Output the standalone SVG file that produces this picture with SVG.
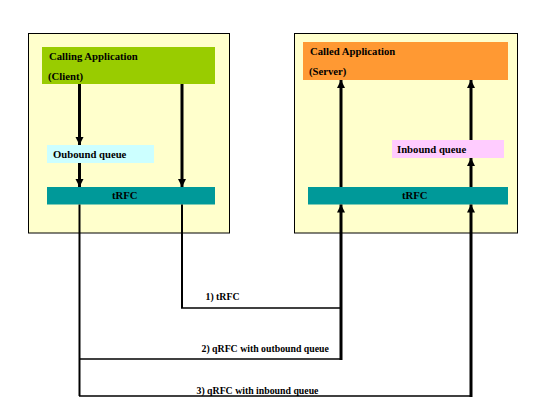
<svg xmlns="http://www.w3.org/2000/svg" width="560" height="420" viewBox="0 0 560 420">
<style>
.box{stroke:none}
.cont{fill:#FFFFCC;stroke:#000;stroke-width:1}
.t{font-family:"Liberation Serif","Times New Roman",serif;font-weight:bold;font-size:10.7px;fill:#000}
.lb{font-family:"Liberation Serif","Times New Roman",serif;font-weight:bold;font-size:9.8px;fill:#000}
.a{fill:none;stroke:#000;stroke-width:3}
.thin{fill:none;stroke:#000;stroke-width:2}
.h{fill:none;stroke:#000;stroke-width:1.6}
</style>
<defs>
<marker id="ah" markerUnits="userSpaceOnUse" markerWidth="10" markerHeight="10" viewBox="0 0 10 10" refX="8" refY="5" orient="auto">
<path d="M0,1 L8,5 L0,9 Z" fill="#000"/>
</marker>
</defs>
<rect width="560" height="420" fill="#fff"/>
<g id="client">
<rect class="cont" x="28.5" y="33.5" width="201" height="199.5"/>
</g>
<g id="server">
<rect class="cont" x="294.5" y="33.5" width="223" height="199.5"/>
</g>
<g id="calling-app">
<rect class="box" x="42" y="47" width="173" height="37" fill="#99CC00"/>
<text class="t" x="49" y="60">Calling Application</text>
<text class="t" x="48" y="80">(Client)</text>
</g>
<g id="outbound-queue">
<rect class="box" x="47" y="145" width="107" height="18" fill="#CCFFFF"/>
<text class="t" x="53" y="158">Oubound queue</text>
</g>
<g id="trfc-left">
<rect class="box" x="47" y="187" width="168" height="17.5" fill="#009999"/>
<text class="t" x="112" y="199">tRFC</text>
</g>
<g id="called-app">
<rect class="box" x="303" y="42" width="205" height="38" fill="#FF9933"/>
<text class="t" x="310" y="55">Called Application</text>
<text class="t" x="309" y="75">(Server)</text>
</g>
<g id="inbound-queue">
<rect class="box" x="392" y="140" width="112" height="18" fill="#FFCCFF"/>
<text class="t" x="397" y="153">Inbound queue</text>
</g>
<g id="trfc-right">
<rect class="box" x="308" y="187" width="200" height="17.5" fill="#009999"/>
<text class="t" x="402" y="199">tRFC</text>
</g>
<g id="connectors">
<line class="a" x1="79.5" y1="84" x2="79.5" y2="145" marker-end="url(#ah)"/>
<line class="a" x1="79.5" y1="163" x2="79.5" y2="187" marker-end="url(#ah)"/>
<line class="a" x1="182" y1="84" x2="182" y2="187" marker-end="url(#ah)"/>
<line class="a" x1="341" y1="187" x2="341" y2="80" marker-end="url(#ah)"/>
<line class="a" x1="471" y1="140" x2="471" y2="80" marker-end="url(#ah)"/>
<line class="a" x1="471" y1="187" x2="471" y2="158" marker-end="url(#ah)"/>
<polyline class="thin" points="182,204.5 182,308"/>
<polyline class="h" points="181,308 341,308"/>
<polyline class="thin" points="79.5,204.5 79.5,396"/>
<polyline class="h" points="79,359 341,359"/>
<polyline class="h" points="79,396 471,396"/>
<line class="a" x1="341" y1="360" x2="341" y2="204.5" marker-end="url(#ah)"/>
<line class="a" x1="471" y1="397" x2="471" y2="204.5" marker-end="url(#ah)"/>
<text class="lb" x="205.5" y="300">1) tRFC</text>
<text class="lb" x="201.5" y="352">2) qRFC with outbound queue</text>
<text class="lb" x="196.5" y="393.5">3) qRFC with inbound queue</text>
</g>
</svg>
